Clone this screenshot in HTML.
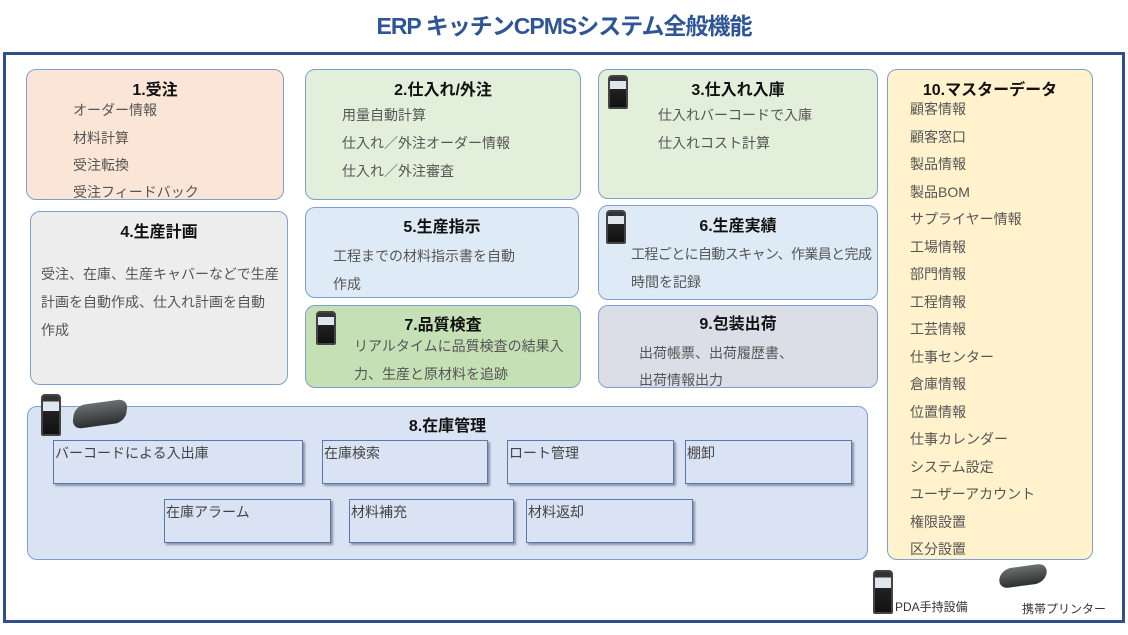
<!DOCTYPE html>
<html><head><meta charset="utf-8"><style>
*{margin:0;padding:0;box-sizing:border-box}
body{width:1128px;height:635px;background:#fff;position:relative;overflow:hidden;font-family:"Liberation Sans","Noto Sans CJK JP",sans-serif}
.a{position:absolute}
.box{position:absolute;border:1.5px solid #7fa0cf;border-radius:10px}
.h{position:absolute;left:0;right:0;text-align:center;font-weight:bold;font-size:16px;color:#111}
.t{position:absolute;font-size:14px;color:#555;white-space:nowrap}
.ib{position:absolute;background:#dae3f3;border:1.5px solid #5a78b0;box-shadow:2px 2px 2px #8a93a3;font-size:14px;color:#444;padding:3px 1px;line-height:18px}
.pda{position:absolute;width:20px;height:34px;background:linear-gradient(#333 0,#333 14%,#dfe6ee 14%,#dfe6ee 40%,#222 40%,#111 100%);border-radius:4px 4px 2px 2px;border:2px solid #444}
.pr{position:absolute;width:52px;height:24px;background:linear-gradient(#6a6f70,#2c2f30);border-radius:10px;transform:skewX(-15deg) rotate(-8deg)}
</style></head><body>
<div class="a" style="left:0;right:0;top:7px;text-align:center;font-size:23px;font-weight:bold;color:#2f5597;letter-spacing:-1px">ERP キッチンCPMSシステム全般機能</div>
<div class="a" style="left:3px;top:52px;width:1122px;height:571px;border:3px solid #2f4f8f"></div>

<div class="box" style="left:26px;top:69px;width:258px;height:131px;background:#fbe5d6">
<div class="h" style="top:6px">1.受注</div>
<div class="t" style="left:46px;top:30px">オーダー情報</div>
<div class="t" style="left:46px;top:58px">材料計算</div>
<div class="t" style="left:46px;top:85px">受注転換</div>
<div class="t" style="left:46px;top:112px">受注フィードバック</div>
</div>

<div class="box" style="left:305px;top:69px;width:276px;height:131px;background:#e2efda">
<div class="h" style="top:6px">2.仕入れ/外注</div>
<div class="t" style="left:36px;top:35px">用量自動計算</div>
<div class="t" style="left:36px;top:63px">仕入れ／外注オーダー情報</div>
<div class="t" style="left:36px;top:91px">仕入れ／外注審査</div>
</div>

<div class="box" style="left:598px;top:69px;width:280px;height:130px;background:#e2efda">
<div class="h" style="top:6px">3.仕入れ入庫</div>
<div class="t" style="left:59px;top:35px">仕入れバーコードで入庫</div>
<div class="t" style="left:59px;top:63px">仕入れコスト計算</div>
</div>
<div class="pda" style="left:608px;top:75px"></div>

<div class="box" style="left:887px;top:69px;width:206px;height:491px;background:#fff2cc">
<div class="h" style="top:6px">10.マスターデータ</div>
<div class="t" style="left:22px;top:29px">顧客情報</div>
<div class="t" style="left:22px;top:57px">顧客窓口</div>
<div class="t" style="left:22px;top:84px">製品情報</div>
<div class="t" style="left:22px;top:112px">製品BOM</div>
<div class="t" style="left:22px;top:139px">サプライヤー情報</div>
<div class="t" style="left:22px;top:167px">工場情報</div>
<div class="t" style="left:22px;top:194px">部門情報</div>
<div class="t" style="left:22px;top:222px">工程情報</div>
<div class="t" style="left:22px;top:249px">工芸情報</div>
<div class="t" style="left:22px;top:277px">仕事センター</div>
<div class="t" style="left:22px;top:304px">倉庫情報</div>
<div class="t" style="left:22px;top:332px">位置情報</div>
<div class="t" style="left:22px;top:359px">仕事カレンダー</div>
<div class="t" style="left:22px;top:387px">システム設定</div>
<div class="t" style="left:22px;top:414px">ユーザーアカウント</div>
<div class="t" style="left:22px;top:442px">権限設置</div>
<div class="t" style="left:22px;top:469px">区分設置</div>
</div>

<div class="box" style="left:30px;top:211px;width:258px;height:174px;background:#ededed">
<div class="h" style="top:6px">4.生産計画</div>
<div class="t" style="left:10px;top:52px">受注、在庫、生産キャバーなどで生産</div>
<div class="t" style="left:10px;top:80px">計画を自動作成、仕入れ計画を自動</div>
<div class="t" style="left:10px;top:108px">作成</div>
</div>

<div class="box" style="left:305px;top:207px;width:274px;height:91px;background:#deebf7">
<div class="h" style="top:5px">5.生産指示</div>
<div class="t" style="left:27px;top:38px">工程までの材料指示書を自動</div>
<div class="t" style="left:27px;top:66px">作成</div>
</div>

<div class="box" style="left:598px;top:205px;width:280px;height:95px;background:#deebf7">
<div class="h" style="top:6px">6.生産実績</div>
<div class="t" style="left:32px;top:38px;letter-spacing:-0.6px">工程ごとに自動スキャン、作業員と完成</div>
<div class="t" style="left:32px;top:66px">時間を記録</div>
</div>
<div class="pda" style="left:606px;top:210px"></div>

<div class="box" style="left:305px;top:305px;width:276px;height:83px;background:#c5e0b4">
<div class="h" style="top:5px">7.品質検査</div>
<div class="t" style="left:48px;top:30px">リアルタイムに品質検査の結果入</div>
<div class="t" style="left:48px;top:58px">力、生産と原材料を追跡</div>
</div>
<div class="pda" style="left:316px;top:311px"></div>

<div class="box" style="left:598px;top:305px;width:280px;height:83px;background:#dbdee7">
<div class="h" style="top:4px">9.包装出荷</div>
<div class="t" style="left:40px;top:37px">出荷帳票、出荷履歴書、</div>
<div class="t" style="left:40px;top:64px">出荷情報出力</div>
</div>

<div class="box" style="left:27px;top:406px;width:841px;height:154px;background:#dae3f3">
<div class="h" style="top:5px">8.在庫管理</div>
</div>
<div class="pda" style="left:41px;top:394px;height:42px"></div>
<div class="pr" style="left:74px;top:402px"></div>

<div class="ib" style="left:53px;top:440px;width:250px;height:44px">バーコードによる入出庫</div>
<div class="ib" style="left:322px;top:440px;width:166px;height:44px">在庫検索</div>
<div class="ib" style="left:507px;top:440px;width:167px;height:44px">ロート管理</div>
<div class="ib" style="left:685px;top:440px;width:167px;height:44px">棚卸</div>
<div class="ib" style="left:164px;top:499px;width:167px;height:44px">在庫アラーム</div>
<div class="ib" style="left:349px;top:499px;width:165px;height:44px">材料補充</div>
<div class="ib" style="left:526px;top:499px;width:167px;height:44px">材料返却</div>

<div class="pda" style="left:873px;top:570px;height:44px"></div>
<div class="t" style="left:895px;top:598px;font-size:12px;color:#333">PDA手持設備</div>
<div class="pr" style="left:1000px;top:566px;width:46px;height:20px"></div>
<div class="t" style="left:1022px;top:600px;font-size:12px;color:#333">携帯プリンター</div>
</body></html>
